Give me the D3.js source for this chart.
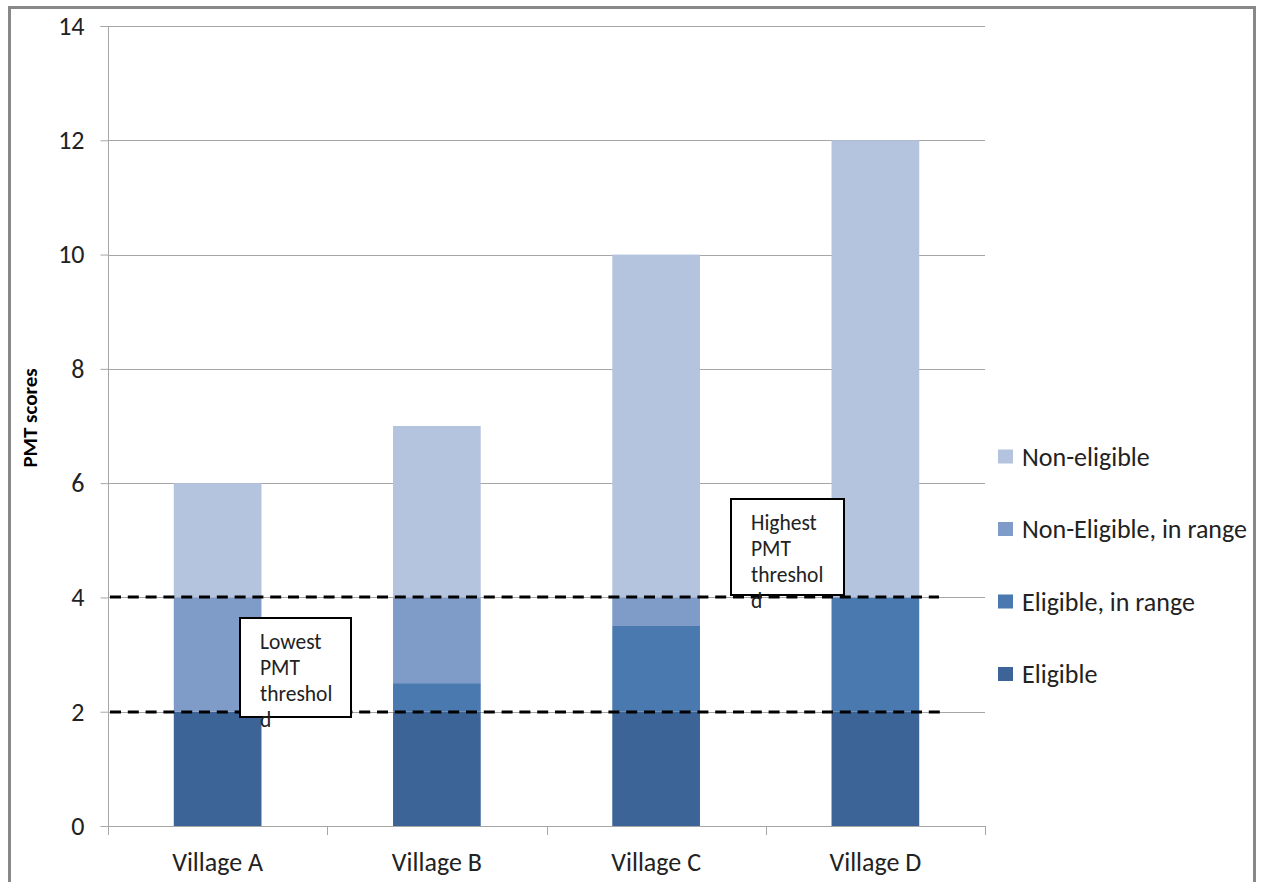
<!DOCTYPE html>
<html>
<head>
<meta charset="utf-8">
<script src="https://cdn.jsdelivr.net/npm/d3@7"></script>
<style>
  html, body { margin: 0; padding: 0; background: #fff; }
  svg { display: block; font-family: Carlito, Calibri, Lato, "Open Sans", sans-serif; }
</style>
</head>
<body>
<svg id="chart" width="1261" height="882"></svg>
<script>
// Villages and stacked PMT score segments (bottom to top)
const villages = ["Village A", "Village B", "Village C", "Village D"];
const eligible = [2, 2, 2, 2];
const eligibleInRange = [0, 0.5, 1.5, 2];
const nonEligibleInRange = [2, 1.5, 0.5, 0];
const nonEligible = [2, 3, 6, 8];

const seriesNames = ["Eligible", "Eligible, in range", "Non-Eligible, in range", "Non-eligible"];
const seriesColors = ["#3c6496", "#4a79b0", "#7f9cc8", "#b5c4de"];
const yTicks = [0, 2, 4, 6, 8, 10, 12, 14];
const thresholds = [2, 4];
const thresholdLabels = ["Lowest PMT threshold", "Highest PMT threshold"];

const FONT = "Carlito, Calibri, Lato, sans-serif";

const rows = villages.map((v, i) => ({
  village: v,
  "Eligible": eligible[i],
  "Eligible, in range": eligibleInRange[i],
  "Non-Eligible, in range": nonEligibleInRange[i],
  "Non-eligible": nonEligible[i]
}));

const svg = d3.select("#chart");
const plot = { left: 108, right: 985, top: 26, bottom: 826 };

// Outer chart frame
svg.append("rect")
  .attr("x", 9.5).attr("y", 7.5)
  .attr("width", 1245).attr("height", 900)
  .attr("fill", "#fff").attr("stroke", "#888").attr("stroke-width", 3);

const x = d3.scaleBand().domain(villages).range([plot.left, plot.right]).paddingInner(0.6).paddingOuter(0.3);
const xBand = d3.scaleBand().domain(villages).range([plot.left, plot.right]);
const y = d3.scaleLinear().domain([0, 14]).range([plot.bottom, plot.top]);

// Horizontal gridlines
svg.append("g").selectAll("line").data(yTicks.filter(t => t > 0)).join("line")
  .attr("x1", plot.left).attr("x2", plot.right)
  .attr("y1", d => Math.round(y(d)) + 0.5).attr("y2", d => Math.round(y(d)) + 0.5)
  .attr("stroke", "#a6a6a6").attr("stroke-width", 1);

// Stacked bars
const stack = d3.stack().keys(seriesNames);
const layers = stack(rows);
svg.append("g").selectAll("g").data(layers).join("g")
  .attr("fill", (d, i) => seriesColors[i])
  .selectAll("rect").data(d => d).join("rect")
  .attr("x", d => x(d.data.village))
  .attr("width", x.bandwidth())
  .attr("y", d => y(d[1]))
  .attr("height", d => y(d[0]) - y(d[1]));

// Y axis
const yAxis = svg.append("g")
  .attr("transform", `translate(${plot.left + 0.5},0)`)
  .call(d3.axisLeft(y).tickValues(yTicks).tickSize(8).tickPadding(16).tickFormat(d3.format("d")));
yAxis.attr("font-size", null).attr("font-family", null);
yAxis.select(".domain").attr("stroke", "#a6a6a6").attr("d", `M-8,${plot.top + 0.5}H0V${plot.bottom}`);
yAxis.selectAll(".tick line").attr("stroke", "#a6a6a6");
yAxis.selectAll(".tick text")
  .style("font-size", "26px").style("font-family", FONT).attr("fill", "#222");

// X axis
const xAxis = svg.append("g")
  .attr("transform", `translate(0,${plot.bottom + 0.5})`)
  .call(d3.axisBottom(xBand).tickSize(0).tickPadding(26));
xAxis.attr("font-size", null).attr("font-family", null);
xAxis.select(".domain").attr("stroke", "#a6a6a6").attr("d", `M${plot.left},0H${plot.right}`);
xAxis.selectAll(".tick text")
  .attr("dy", null).attr("y", 44)
  .style("font-size", "26px").style("font-family", FONT).attr("fill", "#222");
// category boundary tick marks
svg.append("g").selectAll("line")
  .data(villages.map(v => xBand(v)).concat([plot.right]))
  .join("line")
  .attr("x1", d => Math.round(d) + 0.5).attr("x2", d => Math.round(d) + 0.5)
  .attr("y1", plot.bottom).attr("y2", plot.bottom + 9)
  .attr("stroke", "#a6a6a6");

// Y axis title
svg.append("text")
  .attr("transform", `translate(37,418) rotate(-90)`)
  .attr("text-anchor", "middle")
  .style("font-size", "21px").style("font-family", FONT)
  .attr("font-weight", "bold").attr("fill", "#000")
  .text("PMT scores");

// Threshold dashed lines
const thresholdEnds = [944, 939];
svg.append("g").selectAll("line").data(thresholds).join("line")
  .attr("x1", plot.left + 2).attr("x2", (d, i) => thresholdEnds[i])
  .attr("y1", d => Math.round(y(d))).attr("y2", d => Math.round(y(d)))
  .attr("stroke", "#000").attr("stroke-width", 3).attr("stroke-dasharray", "11,6.8");

// Threshold callout boxes (text wraps past the box bottom)
const boxes = [
  { x: 240, y: 618, w: 111, h: 99, lines: ["Lowest", "PMT", "threshol", "d"] },
  { x: 731, y: 499, w: 113, h: 96, lines: ["Highest", "PMT", "threshol", "d"] }
];
boxes.forEach((b, i) => {
  const g = svg.append("g").attr("aria-label", thresholdLabels[i]);
  g.append("rect").attr("x", b.x).attr("y", b.y).attr("width", b.w).attr("height", b.h)
    .attr("fill", "#fff").attr("stroke", "#000").attr("stroke-width", 2);
  g.append("text").style("font-size", "21.5px").style("font-family", FONT).attr("fill", "#222")
    .selectAll("tspan").data(b.lines).join("tspan")
    .attr("x", b.x + 20).attr("y", (d, j) => b.y + 30.5 + j * 26)
    .text(d => d);
});

// Legend (top series first)
const legendItems = seriesNames.map((n, i) => ({ name: n, color: seriesColors[i] })).reverse();
const lg = svg.append("g").selectAll("g").data(legendItems).join("g")
  .attr("transform", (d, i) => `translate(998,${456.5 + i * 72.5})`);
lg.append("rect").attr("x", 0).attr("y", -7).attr("width", 15).attr("height", 14).attr("fill", d => d.color);
lg.append("text").attr("x", 24).attr("y", 9)
  .style("font-size", "26px").style("font-family", FONT).attr("fill", "#222").text(d => d.name);
</script>
</body>
</html>
